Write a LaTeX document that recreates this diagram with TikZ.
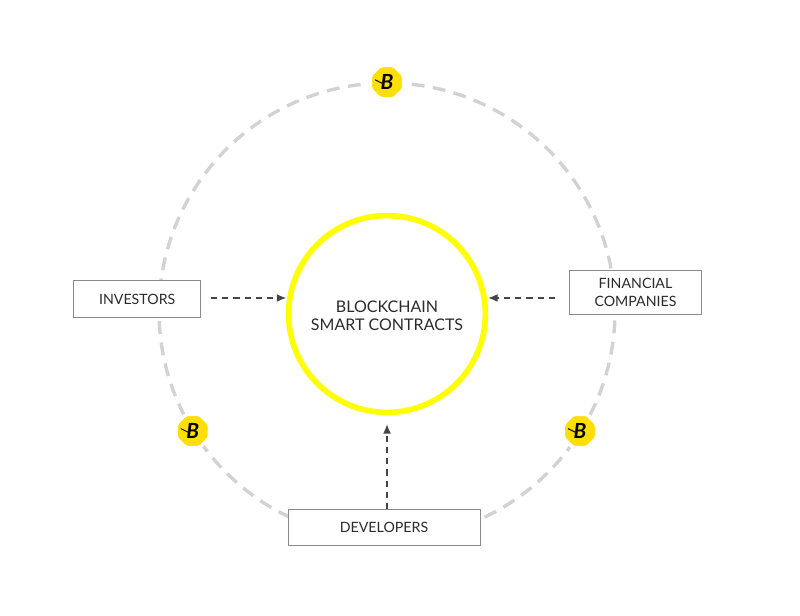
\documentclass[tikz,border=0pt]{standalone}
\usepackage{fontspec}
\setmainfont{Lato}
\usetikzlibrary{shapes.geometric,arrows.meta}

\definecolor{hubyellow}{HTML}{FFFF00}
\definecolor{badgeyellow}{HTML}{FFDF00}
\definecolor{orbitgrey}{HTML}{D2D2D2}
\definecolor{flowgrey}{HTML}{454545}
\definecolor{boxgrey}{HTML}{8A8A8A}
\definecolor{inkgrey}{HTML}{2B2B2B}

\begin{document}
\begin{tikzpicture}[
    >={Latex[length=3.4pt,width=2.8pt]},
    textbox/.style={
        draw=boxgrey,
        line width=0.35pt,
        fill=white,
        font=\fontsize{5.05}{6.2}\selectfont,
        text=inkgrey,
        align=center,
        inner sep=0pt
    },
    hubring/.style={
        circle,
        draw=hubyellow,
        line width=2pt,
        minimum size=2.46cm,
        inner sep=0pt
    },
    hubtext/.style={
        font=\fontsize{5.7}{6.5}\selectfont,
        text=inkgrey,
        align=center
    },
    orbit/.style={
        draw=orbitgrey,
        line width=1.2pt,
        dash pattern=on 4.6pt off 3pt
    },
    badge/.style={
        regular polygon,
        regular polygon sides=8,
        fill=badgeyellow,
        draw=white,
        line width=1.2pt,
        rounded corners=0.7pt,
        minimum size=0.45cm,
        inner sep=0pt,
        font=\fontsize{7.4}{7.4}\selectfont\bfseries\itshape,
        text=black
    },
    flow/.style={
        ->,
        draw=flowgrey,
        line width=0.55pt,
        dash pattern=on 2.2pt off 1.8pt
    }
]

% Bounding box of the reference
\useasboundingbox (0,0) rectangle (10,7.6875);

% ==================================================
% Dashed orbit
% ==================================================

\coordinate (orbitcentre) at (4.8375,3.8);
\draw[orbit] (orbitcentre) circle (2.85);

% ==================================================
% Centre and boxes
% ==================================================

\node[hubring] (hub) at (4.8375,3.7625) {};
\node[hubtext] (hubtitle) at ([yshift=-0.025cm]hub.center)
    {BLOCKCHAIN\\SMART CONTRACTS};

\node[textbox, minimum width=1.59cm, minimum height=0.46cm] (investors)
    at (1.715,3.95) {INVESTORS};

\node[textbox, minimum width=1.66cm, minimum height=0.56cm] (financial)
    at (7.944,4.03) {FINANCIAL\\COMPANIES};

\node[textbox, minimum width=2.4cm, minimum height=0.45cm] (developers)
    at (4.8,1.09) {DEVELOPERS};

% ==================================================
% Logo badges on the orbit
% ==================================================

\node[badge] (badgetop) at (4.8375,6.66) {B};
\node[badge] (badgeleft) at (2.41,2.30) {B};
\node[badge] (badgeright) at (7.25,2.30) {B};

% Small tail of each logo
\foreach \badgename in {badgetop,badgeleft,badgeright}{
    \draw[black, line width=0.35pt]
        ([xshift=-0.15cm,yshift=0.03cm]\badgename.center)
        -- ([xshift=-0.06cm,yshift=-0.015cm]\badgename.center);
}

% ==================================================
% Arrows into the centre
% ==================================================

% Investors and financial companies
\coordinate (leftin) at (3.58,3.9625);
\coordinate (rightin) at (6.1,3.9625);

\draw[flow] (investors.east |- leftin) [shorten <=0.12cm] -- (leftin);
\draw[flow] (financial.west |- rightin) [shorten <=0.17cm] -- (rightin);

% Developers
\draw[flow] (developers.north -| hub.south) [shorten >=0.11cm] -- (hub.south);

\end{tikzpicture}
\end{document}
